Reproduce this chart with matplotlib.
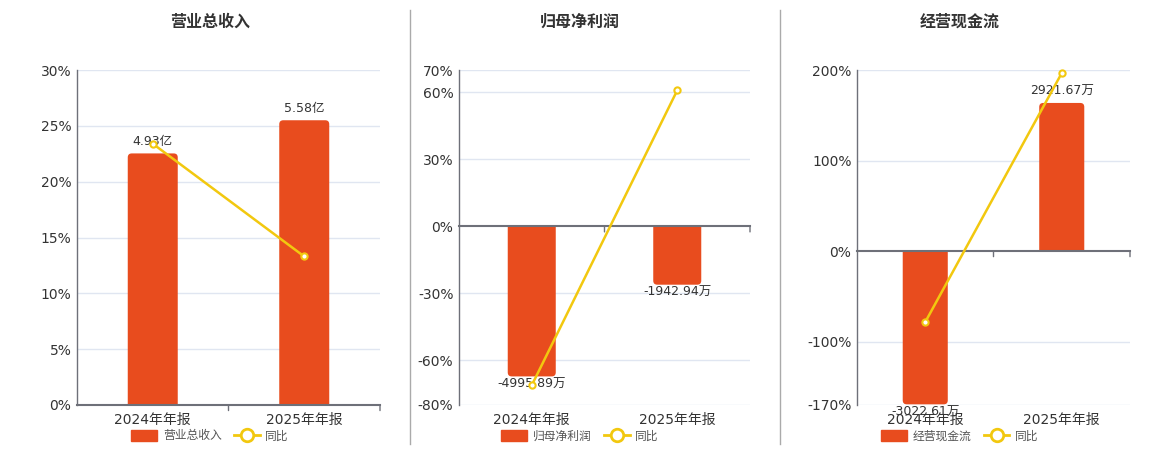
import matplotlib
matplotlib.use("Agg")
import matplotlib.pyplot as plt
import matplotlib.patches as mpatches
from matplotlib.lines import Line2D

plt.rcParams["font.family"] = ["DejaVu Sans", "Noto Sans CJK SC"]
plt.rcParams["axes.unicode_minus"] = False

# 数据
categories = ["2024年年报", "2025年年报"]
titles = ["营业总收入", "归母净利润", "经营现金流"]

revenue = [4.93, 5.58]            # 亿
revenue_labels = ["4.93亿", "5.58亿"]
revenue_yoy = [23.4, 13.3]        # %

profit = [-4995.89, -1942.94]     # 万
profit_labels = ["-4995.89万", "-1942.94万"]
profit_yoy = [-71.2, 60.9]

cash = [-3022.61, 2921.67]        # 万
cash_labels = ["-3022.61万", "2921.67万"]
cash_yoy = [-78.4, 196.6]

yticks_list = [
    [0, 5, 10, 15, 20, 25, 30],
    [-80, -60, -30, 0, 30, 60, 70],
    [-170, -100, 0, 100, 200],
]

BAR = "#e84c1e"
LINE = "#f2c80f"
GRID = "#e0e6f1"
AXIS = "#6e7079"
TXT = "#333333"

W, H = 1160, 450
fig = plt.figure(figsize=(11.6, 4.5), dpi=100)

# 每个面板: 坐标轴位置(像素), 柱子缩放, 面板中心
panels = [
    dict(left=77, right=380, bars=revenue, blabels=revenue_labels, yoy=revenue_yoy,
         scale=25.5 / 5.58, center=210),
    dict(left=459, right=750, bars=profit, blabels=profit_labels, yoy=profit_yoy,
         scale=67.2 / 4995.89, center=580),
    dict(left=857, right=1130, bars=cash, blabels=cash_labels, yoy=cash_yoy,
         scale=0.0560, center=960),
]

top_px, bot_px = 70, 405
x = [0, 1]
RADIUS_PX = 4

for i, p in enumerate(panels):
    rect = [p["left"] / W, 1 - bot_px / H, (p["right"] - p["left"]) / W, (bot_px - top_px) / H]
    ax = fig.add_axes(rect)
    yt = yticks_list[i]
    lo, hi = yt[0], yt[-1]
    ax.set_xlim(-0.5, 1.5)
    ax.set_ylim(lo, hi)
    ax.set_yticks(yt)
    ax.set_yticklabels([f"{v}%" for v in yt])
    ax.set_xticks(x)
    ax.set_xticklabels(categories)
    ax.tick_params(axis="both", length=0, labelsize=10, colors=TXT)
    ax.tick_params(axis="y", pad=4)
    ax.tick_params(axis="x", pad=6)
    for v in yt:
        if v != 0:
            ax.axhline(v, color=GRID, lw=1, zorder=0)
    for s in ["top", "right", "bottom"]:
        ax.spines[s].set_visible(False)
    ax.spines["left"].set_color(AXIS)
    ax.spines["left"].set_linewidth(1)

    # 柱子(独立刻度)
    axb = ax.twinx()
    k = p["scale"]
    blo, bhi = lo / k, hi / k
    axb.set_ylim(blo, bhi)
    axb.set_xlim(-0.5, 1.5)
    axb.axis("off")
    bars = axb.bar(x, p["bars"], width=0.33, color=BAR, zorder=2)
    w_px = p["right"] - p["left"]
    xu = 2.0 / w_px
    yu = (bhi - blo) / (bot_px - top_px)
    r = RADIUS_PX * xu
    ext = 3 * RADIUS_PX * yu
    for b in bars:
        bx, by, bw, bh = b.get_x(), b.get_y(), b.get_width(), b.get_height()
        b.set_visible(False)
        # 圆角柱, 零轴一端延长后裁掉 -> 只保留远端圆角
        if bh >= 0:
            y0, y1 = by - ext, by + bh
            clip = mpatches.Rectangle((bx - bw, by), 3 * bw, bhi - blo,
                                      transform=axb.transData)
        else:
            y0, y1 = by + bh, by + ext
            clip = mpatches.Rectangle((bx - bw, blo - (bhi - blo)), 3 * bw,
                                      by - blo + (bhi - blo), transform=axb.transData)
        fb = mpatches.FancyBboxPatch(
            (bx, y0), bw, y1 - y0, boxstyle=f"round,pad=0,rounding_size={r}",
            mutation_aspect=yu / xu, facecolor=BAR, edgecolor="none", zorder=2)
        axb.add_patch(fb)
        fb.set_clip_path(clip)
    for xi, v, lab in zip(x, p["bars"], p["blabels"]):
        off = 4 if v > 0 else -1
        axb.annotate(lab, (xi, v), xytext=(0, off), textcoords="offset points",
                     ha="center", va="bottom" if v > 0 else "top",
                     fontsize=9, color=TXT)

    # 同比线
    axl = ax.twinx()
    axl.set_ylim(lo, hi)
    axl.set_xlim(-0.5, 1.5)
    axl.axis("off")
    axl.axhline(0, color=AXIS, lw=1.5, zorder=1, clip_on=False)
    for bnd in [0.5, 1.5]:
        axl.annotate("", xy=(bnd, 0), xytext=(0, -4), textcoords="offset points",
                     arrowprops=dict(arrowstyle="-", color=AXIS, lw=1,
                                     shrinkA=0, shrinkB=0),
                     annotation_clip=False)
    axl.plot(x, p["yoy"], color=LINE, lw=1.8, marker="o", markersize=4.5,
             markerfacecolor="white", markeredgecolor=LINE, markeredgewidth=1.5,
             zorder=3, clip_on=False)

    # 标题
    fig.text(p["center"] / W, 1 - 22 / H, titles[i], ha="center", va="center",
             fontsize=11.5, fontweight="bold", color=TXT)

    # 图例
    handles = [
        mpatches.Patch(facecolor=BAR, edgecolor=BAR),
        Line2D([], [], color=LINE, lw=2, marker="o", markersize=9,
               markerfacecolor="white", markeredgecolor=LINE, markeredgewidth=2),
    ]
    fig.legend(handles, [titles[i], "同比"], loc="center",
               bbox_to_anchor=(p["center"] / W, 1 - 436 / H), ncol=2, frameon=False,
               fontsize=8.5, handlelength=2.2, handleheight=1.0, columnspacing=1.0,
               handletextpad=0.5, labelcolor="#555555")

# 分隔线
for xs in [410, 780]:
    fig.add_artist(Line2D([xs / W, xs / W], [1 - 10 / H, 1 - 444 / H],
                          transform=fig.transFigure, color="#aaaaaa", lw=1))

fig.savefig("out.png", dpi=100)
